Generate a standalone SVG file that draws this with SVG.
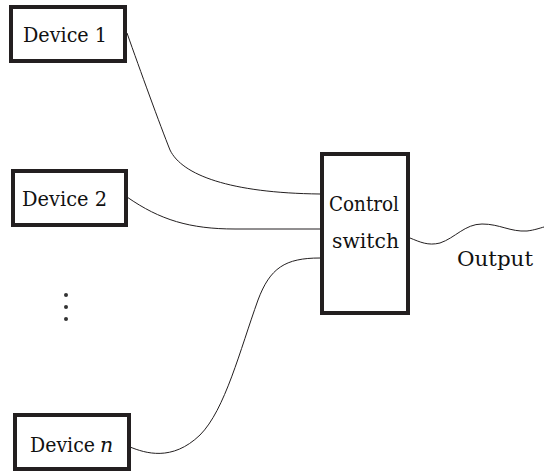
<svg xmlns="http://www.w3.org/2000/svg" width="544" height="472" viewBox="0 0 544 472">
<style>
.box{fill:#fff;stroke:#231f20;stroke-width:4}
.lbl{font-family:"DejaVu Serif","Liberation Serif",serif;font-size:20.5px;fill:#111}
.wire{fill:none;stroke:#231f20;stroke-width:1}
</style>
<rect width="544" height="472" fill="#fff"/>
<g id="connectors">
<path class="wire" d="M127,33 C140,70 160,125 170,150 C182,175 230,193 320,194"/>
<path class="wire" d="M127,197 C160,220 190,229 235,229 L320,229"/>
<path class="wire" d="M130,447 C145,453 172,462 200,435 C225,410 240,350 258,300 C270,268 285,258 320,258"/>
<path class="wire" d="M410,238 C420,242 428,246 440,243 C455,238 465,224 482,224 C500,224 510,232 527,231 C535,230 540,228 544,227"/>
</g>
<g id="device1">
<rect class="box" x="11" y="7" width="114" height="54"/>
<text class="lbl" x="23" y="42" textLength="84" lengthAdjust="spacingAndGlyphs">Device 1</text>
</g>
<g id="device2">
<rect class="box" x="13" y="171" width="113" height="54"/>
<text class="lbl" x="22" y="206" textLength="85" lengthAdjust="spacingAndGlyphs">Device 2</text>
</g>
<g id="dots">
<circle cx="66" cy="295" r="2" fill="#333"/>
<circle cx="66" cy="307" r="2" fill="#333"/>
<circle cx="66" cy="319" r="2" fill="#333"/>
</g>
<g id="devicen">
<rect class="box" x="15" y="415" width="114" height="54"/>
<text class="lbl" x="30" y="452" textLength="65" lengthAdjust="spacingAndGlyphs">Device</text>
<text class="lbl" x="100" y="452" font-style="italic">n</text>
</g>
<g id="switch">
<rect class="box" x="322" y="154" width="86" height="159"/>
<text class="lbl" x="329" y="211" textLength="70" lengthAdjust="spacingAndGlyphs">Control</text>
<text class="lbl" x="332" y="248" textLength="67" lengthAdjust="spacingAndGlyphs">switch</text>
</g>
<g id="output">
<text class="lbl" x="457" y="266" textLength="76" lengthAdjust="spacingAndGlyphs">Output</text>
</g>
</svg>
